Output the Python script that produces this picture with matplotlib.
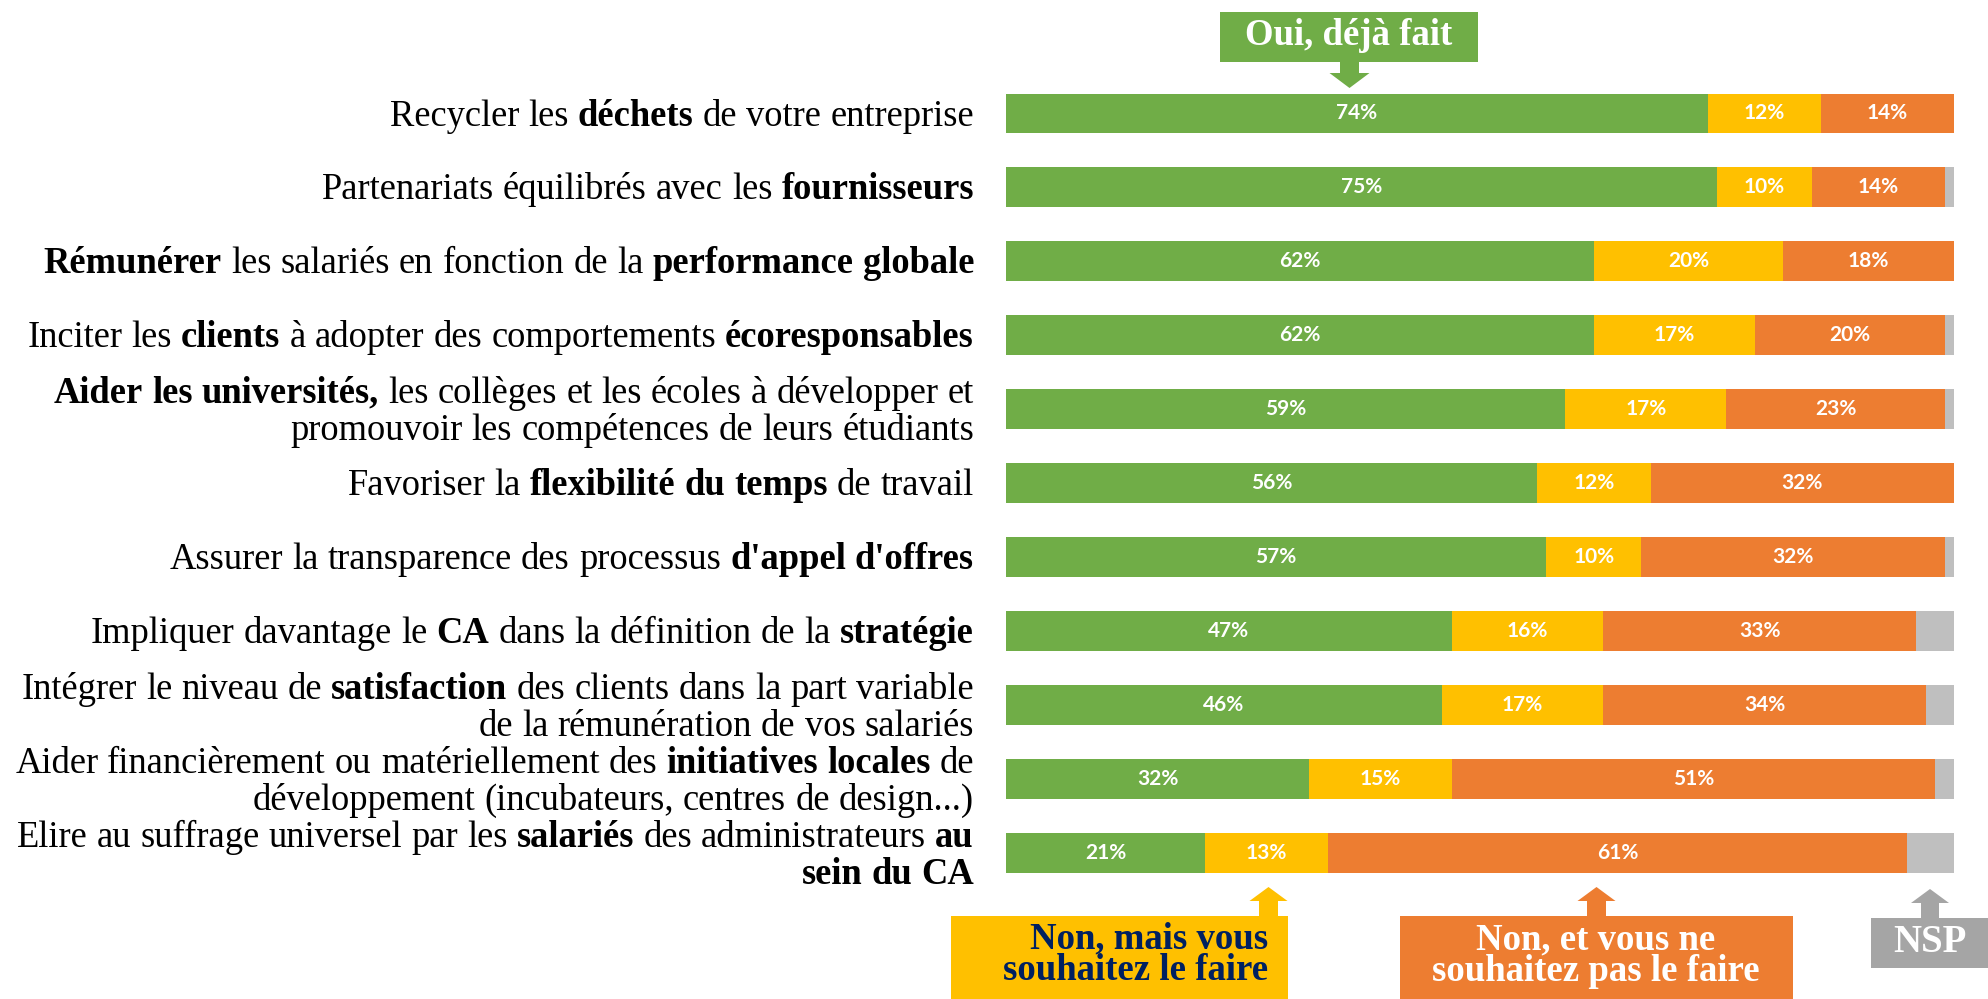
import matplotlib
matplotlib.use("Agg")
import matplotlib.pyplot as plt
from matplotlib.transforms import Affine2D
from matplotlib.patches import Rectangle, Polygon

# ---------------- data ----------------
labels = [
    "Recycler les **déchets** de votre entreprise",
    "Partenariats équilibrés avec les **fournisseurs**",
    "**Rémunérer** les salariés en fonction de la **performance globale**",
    "Inciter les **clients** à adopter des comportements **écoresponsables**",
    "**Aider les universités,** les collèges et les écoles à développer et\npromouvoir les compétences de leurs étudiants",
    "Favoriser la **flexibilité du temps** de travail",
    "Assurer la transparence des processus **d'appel d'offres**",
    "Impliquer davantage le **CA** dans la définition de la **stratégie**",
    "Intégrer le niveau de **satisfaction** des clients dans la part variable\nde la rémunération de vos salariés",
    "Aider financièrement ou matériellement des **initiatives locales** de\ndéveloppement (incubateurs, centres de design...)",
    "Elire au suffrage universel par les **salariés** des administrateurs **au**\n**sein du CA**",
]
oui = [74, 75, 62, 62, 59, 56, 57, 47, 46, 32, 21]
mais = [12, 10, 20, 17, 17, 12, 10, 16, 17, 15, 13]
non = [14, 14, 18, 20, 23, 32, 32, 33, 34, 51, 61]
nsp = [0, 1, 0, 1, 1, 0, 1, 4, 3, 2, 5]

series_names = ["Oui, déjà fait", "Non, mais vous\nsouhaitez le faire",
                "Non, et vous ne\nsouhaitez pas le faire", "NSP"]

GREEN, YELLOW, ORANGE, GREY, GREY2, NAVY = "#70AD47", "#FFC000", "#ED7D31", "#BFBFBF", "#A5A5A5", "#002060"

W, H = 1988, 999
fig = plt.figure(figsize=(W / 100, H / 100), dpi=100)
ax = fig.add_axes([1006 / W, 1 - 890 / H, 948 / W, 813.5 / H])
ax.set_xlim(0, 100)
ax.set_ylim(len(labels) - 0.5, -0.5)
ax.axis("off")

ys = list(range(len(labels)))
left = [0] * len(ys)
for vals, col, lab in [(oui, GREEN, True), (mais, YELLOW, True), (non, ORANGE, True), (nsp, GREY, False)]:
    ax.barh(ys, vals, left=left, height=0.54, color=col, edgecolor="none")
    if lab:
        for y, v, l in zip(ys, vals, left):
            ax.text(l + v / 2, y, f"{v}%", ha="center", va="center", color="white",
                    fontsize=15, fontweight="bold", family="Lato")
    left = [a + b for a, b in zip(left, vals)]

# pixel transform (origin top-left)
T = Affine2D().scale(1, -1).translate(0, H)
renderer = fig.canvas.get_renderer()

LFONT = "Liberation Serif"
LSIZE = 26.3

def width_of(s, bold):
    t = fig.text(0, 0, s, family=LFONT, fontsize=LSIZE, fontweight="bold" if bold else "normal")
    w = t.get_window_extent(renderer).width
    t.remove()
    return w

space_w = width_of("a a", False) - width_of("aa", False)

x_right = 974
line_gap = 37
for i, lab in enumerate(labels):
    lines = lab.split("\n")
    yc = H - ax.transData.transform((0, i))[1]
    n = len(lines)
    for k, line in enumerate(lines):
        parts = line.split("**")
        words = []
        for j, p in enumerate(parts):
            for w in p.split():
                words.append((w, j % 2 == 1))
        ymid = yc + (k - (n - 1) / 2) * line_gap
        base = ymid + 0.33 * LSIZE * 100 / 72
        x = x_right
        for w, b in reversed(words):
            t = fig.text(x, base, w, transform=T, family=LFONT, fontsize=LSIZE,
                         fontweight="bold" if b else "normal", ha="right", va="baseline",
                         color="black")
            x -= t.get_window_extent(renderer).width + space_w

# legend boxes with arrows
def box(x0, y0, x1, y1, col):
    fig.patches.append(Rectangle((x0, y0), x1 - x0, y1 - y0, transform=T, color=col, lw=0))

def arrow(xc, tip, base_head, end, shaft_w, head_w, col):
    pts = [(xc, tip), (xc + head_w / 2, base_head), (xc + shaft_w / 2, base_head),
           (xc + shaft_w / 2, end), (xc - shaft_w / 2, end), (xc - shaft_w / 2, base_head),
           (xc - head_w / 2, base_head)]
    fig.patches.append(Polygon(pts, closed=True, transform=T, color=col, lw=0))

BFS = 26.5
# green
box(1220, 12, 1478, 62, GREEN)
arrow(1349.5, 88, 73, 62, 19, 40, GREEN)
fig.text(1349, 45, series_names[0], transform=T, family=LFONT, fontweight="bold",
         fontsize=BFS, color="white", ha="center", va="baseline")
# yellow
box(951, 916, 1288, 1005, YELLOW)
arrow(1268.5, 887, 901, 917, 19, 38, YELLOW)
for k, ln in enumerate(series_names[1].split("\n")):
    fig.text(1268, 948 + 32 * k, ln, transform=T, family=LFONT, fontweight="bold",
             fontsize=BFS, color=NAVY, ha="right", va="baseline")
# orange
box(1400, 916, 1793, 1005, ORANGE)
arrow(1596.5, 887, 901, 917, 19, 38, ORANGE)
for k, ln in enumerate(series_names[2].split("\n")):
    fig.text(1596, 949 + 32 * k, ln, transform=T, family=LFONT, fontweight="bold",
             fontsize=BFS, color="white", ha="center", va="baseline")
# NSP
box(1871, 918, 1990, 968, GREY2)
arrow(1930, 889, 903, 919, 18, 38, GREY2)
fig.text(1929.5, 952, series_names[3], transform=T, family=LFONT, fontweight="bold",
         fontsize=28, color="white", ha="center", va="baseline")

fig.savefig("out.png", dpi=100, facecolor="white")
